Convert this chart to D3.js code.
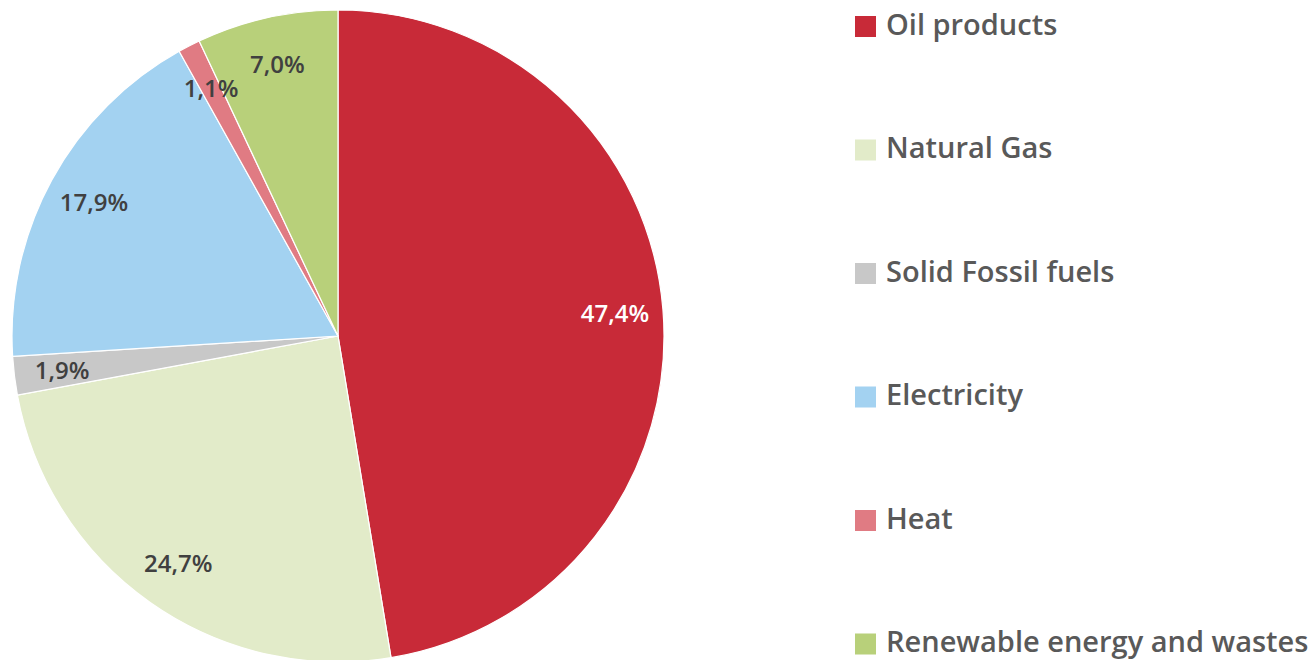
<!DOCTYPE html>
<html>
<head>
<meta charset="utf-8">
<script src="https://cdn.jsdelivr.net/npm/d3@7"></script>
<style>
  body { margin: 0; background: #fff; }
  svg text { font-family: "Open Sans", "DejaVu Sans", sans-serif; }
</style>
</head>
<body>
<div id="chart"></div>
<script>
var categories = ["Oil products", "Natural Gas", "Solid Fossil fuels", "Electricity", "Heat", "Renewable energy and wastes"];
var shares = [47.4, 24.7, 1.9, 17.9, 1.1, 7.0];
var labels = ["47,4%", "24,7%", "1,9%", "17,9%", "1,1%", "7,0%"];
var colors = ["#C82A38", "#E2EBC9", "#C8C8C8", "#A3D2F1", "#E07B83", "#B8D07A"];

var width = 1314, height = 660;
var cx = 338, cy = 336, radius = 326;

var svg = d3.select("#chart")
    .append("svg")
    .attr("width", width)
    .attr("height", height);

var data = categories.map(function(c, i) {
    return { name: c, value: shares[i], label: labels[i], color: colors[i] };
});

var pie = d3.pie()
    .sort(null)
    .value(function(d) { return d.value; });

var arc = d3.arc().innerRadius(0).outerRadius(radius);
var labelArc = d3.arc().innerRadius(278).outerRadius(278);

var g = svg.append("g")
    .attr("transform", "translate(" + cx + "," + cy + ")");

var arcs = pie(data);

g.selectAll("path.slice")
    .data(arcs)
    .enter()
    .append("path")
    .attr("class", "slice")
    .attr("d", arc)
    .attr("fill", function(d) { return d.data.color; })
    .attr("stroke", "#fff")
    .attr("stroke-width", 1.2);

// labels go on top of every slice
g.selectAll("text.pct")
    .data(arcs)
    .enter()
    .append("text")
    .attr("class", "pct")
    .attr("transform", function(d) { return "translate(" + labelArc.centroid(d) + ")"; })
    .attr("text-anchor", "middle")
    .attr("dy", "0.36em")
    .attr("font-size", 24)
    .attr("font-weight", 600)
    .attr("fill", function(d, i) { return i == 0 ? "#fff" : "#404040"; })
    .text(function(d) { return d.data.label; });

// legend
var legendY = d3.scalePoint()
    .domain(categories)
    .range([26.5, 644]);

var legend = svg.selectAll("g.legend")
    .data(data)
    .enter()
    .append("g")
    .attr("class", "legend")
    .attr("transform", function(d) { return "translate(855," + legendY(d.name) + ")"; });

legend.append("rect")
    .attr("x", 0)
    .attr("y", -10.5)
    .attr("width", 21)
    .attr("height", 21)
    .attr("fill", function(d) { return d.color; });

legend.append("text")
    .attr("x", 31)
    .attr("y", 8)
    .attr("font-size", 29)
    .attr("font-weight", 600)
    .attr("fill", "#595959")
    .text(function(d) { return d.name; });
</script>
</body>
</html>
